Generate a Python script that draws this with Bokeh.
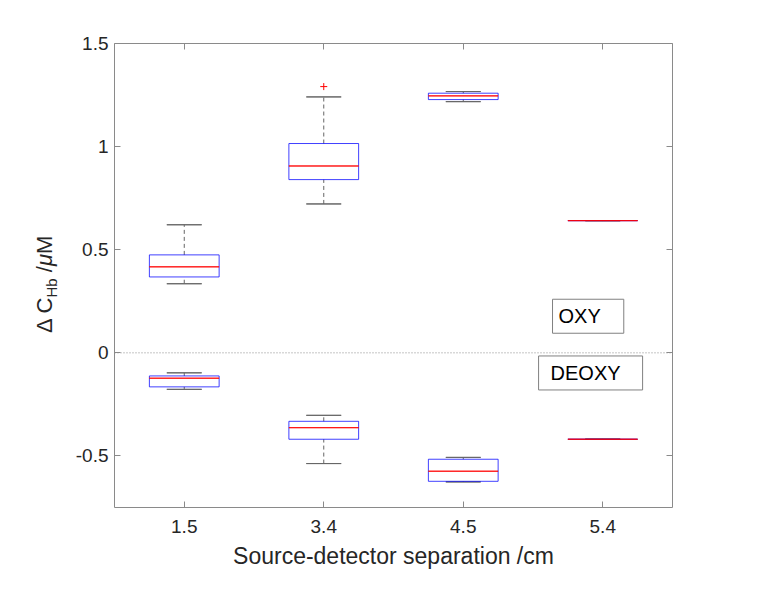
from bokeh.plotting import figure
from bokeh.layouts import row
from bokeh.models import (FactorRange, Range1d, FixedTicker, LinearAxis, CategoricalAxis,
                          Span, Label, ColumnDataSource, CustomJSTickFormatter, Div)
from bokeh.embed import file_html
from bokeh.resources import INLINE

# ---------------- data ----------------
cats = ["1.5", "3.4", "4.5", "5.4"]

oxy_lo = [0.335, 0.722, 1.218, 0.641]
oxy_q1 = [0.368, 0.840, 1.228, 0.641]
oxy_med = [0.417, 0.906, 1.246, 0.641]
oxy_q3 = [0.475, 1.015, 1.259, 0.641]
oxy_hi = [0.621, 1.241, 1.267, 0.641]
oxy_out_x = ["3.4"]
oxy_out_y = [1.291]

deoxy_lo = [-0.177, -0.537, -0.626, -0.419]
deoxy_q1 = [-0.165, -0.419, -0.623, -0.419]
deoxy_med = [-0.123, -0.363, -0.574, -0.419]
deoxy_q3 = [-0.112, -0.332, -0.516, -0.419]
deoxy_hi = [-0.097, -0.303, -0.507, -0.419]

y_ticks = [-0.5, 0, 0.5, 1, 1.5]
y_tick_labels = ["-0.5", "0", "0.5", "1", "1.5"]

x_title = "Source-detector separation /cm"
y_title_main, y_title_sub, y_title_mu, y_title_unit = "\u0394 C", "Hb", "\u03bc", "M"   # Δ C_Hb /μM
# --------------------------------------

AX = "#8a8a8a"
TXT = "#262626"
FONT = "Liberation Sans"
W, H = 740, 590
LAB_W = 70

p = figure(width=W - LAB_W, height=H, x_range=FactorRange(factors=cats, range_padding=0),
           y_range=Range1d(-0.75, 1.5), output_backend="svg", toolbar_location=None,
           min_border_left=114 - LAB_W, min_border_right=68, min_border_top=43,
           min_border_bottom=83)
p.outline_line_color = None
p.xgrid.visible = False
p.ygrid.visible = False
p.background_fill_color = "white"
p.border_fill_color = "white"

def style_axis(ax, show_labels=True):
    ax.axis_line_color = AX
    ax.major_tick_line_color = AX
    ax.minor_tick_line_color = None
    ax.major_tick_in = 6
    ax.major_tick_out = 0
    ax.major_label_text_color = TXT
    ax.major_label_text_font = FONT
    ax.major_label_text_font_size = "19px"
    if not show_labels:
        ax.formatter = CustomJSTickFormatter(code="return ''")
        ax.major_label_standoff = 0

# bottom axis
xa = p.xaxis[0]
style_axis(xa)
xa.major_label_standoff = 12
xa.axis_label = x_title
xa.axis_label_text_font = FONT
xa.axis_label_text_font_size = "23px"
xa.axis_label_text_font_style = "normal"
xa.axis_label_text_color = TXT
xa.axis_label_standoff = 7

# left axis
ya = p.yaxis[0]
style_axis(ya)
ya.ticker = FixedTicker(ticks=y_ticks)
ya.major_label_overrides = {t: l for t, l in zip(y_ticks, y_tick_labels)}
ya.major_label_standoff = 6

# mirrored axes (ticks only)
top = CategoricalAxis()
style_axis(top, False)
p.add_layout(top, "above")
right = LinearAxis(ticker=FixedTicker(ticks=y_ticks))
style_axis(right, False)
p.add_layout(right, "right")

# zero line
p.add_layout(Span(location=0, dimension="width", line_color="#8a8a8a",
                  line_dash="1 2", line_width=1))

def boxes(lo, q1, med, q3, hi):
    src = ColumnDataSource(dict(x=cats, lo=lo, q1=q1, med=med, q3=q3, hi=hi))
    p.segment(x0="x", x1="x", y0="q3", y1="hi", source=src, line_color="#666666",
              line_dash="4 3", line_width=1)
    p.segment(x0="x", x1="x", y0="lo", y1="q1", source=src, line_color="#666666",
              line_dash="4 3", line_width=1)
    p.vbar(x="x", top="hi", bottom="hi", width=0.25, source=src, fill_color=None,
           line_color="#666666", line_width=1)
    p.vbar(x="x", top="lo", bottom="lo", width=0.25, source=src, fill_color=None,
           line_color="#666666", line_width=1)
    p.vbar(x="x", top="q3", bottom="q1", width=0.5, source=src, fill_color=None,
           line_color="blue", line_alpha=0.75, line_width=1)
    p.vbar(x="x", top="med", bottom="med", width=0.5, source=src, fill_color=None,
           line_color="red", line_alpha=0.85, line_width=1)

boxes(oxy_lo, oxy_q1, oxy_med, oxy_q3, oxy_hi)
boxes(deoxy_lo, deoxy_q1, deoxy_med, deoxy_q3, deoxy_hi)
p.scatter(x=oxy_out_x, y=oxy_out_y, marker="cross", size=7, line_color="red", line_width=1)

# text boxes
p.add_layout(Label(x=3.14, y=0.095, text="OXY", text_font=FONT, text_font_size="20px",
                   text_color="black", text_align="left", text_baseline="bottom",
                   border_line_color="#808080", border_line_width=1,
                   background_fill_color="white",
                   padding=dict(left=6, right=23, top=6, bottom=6)))
p.add_layout(Label(x=3.04, y=-0.18, text="DEOXY", text_font=FONT, text_font_size="20px",
                   text_color="black", text_align="left", text_baseline="bottom",
                   border_line_color="#808080", border_line_width=1,
                   background_fill_color="white",
                   padding=dict(left=12, right=22, top=6, bottom=6)))

# y-axis title with a real subscript, rotated, in a narrow side column
ytitle_html = (
    f'<div style="position:relative;width:{LAB_W}px;height:{H}px;background:white;">'
    '<div style="position:absolute;left:34px;top:333px;transform:rotate(-90deg);'
    "transform-origin:0 0;font-family:'Liberation Sans',Arial,sans-serif;font-size:22px;"
    'line-height:22px;color:#262626;white-space:nowrap;">'
    f'{y_title_main}<span style="font-size:15px;position:relative;top:5px;">{y_title_sub}'
    f'</span> /<i>{y_title_mu}</i>{y_title_unit}</div></div>'
)
ytitle = Div(text=ytitle_html, width=LAB_W, height=H, margin=(0, 0, 0, 0))

layout = row(ytitle, p)
open("out.html", "w").write(file_html(layout, INLINE))
